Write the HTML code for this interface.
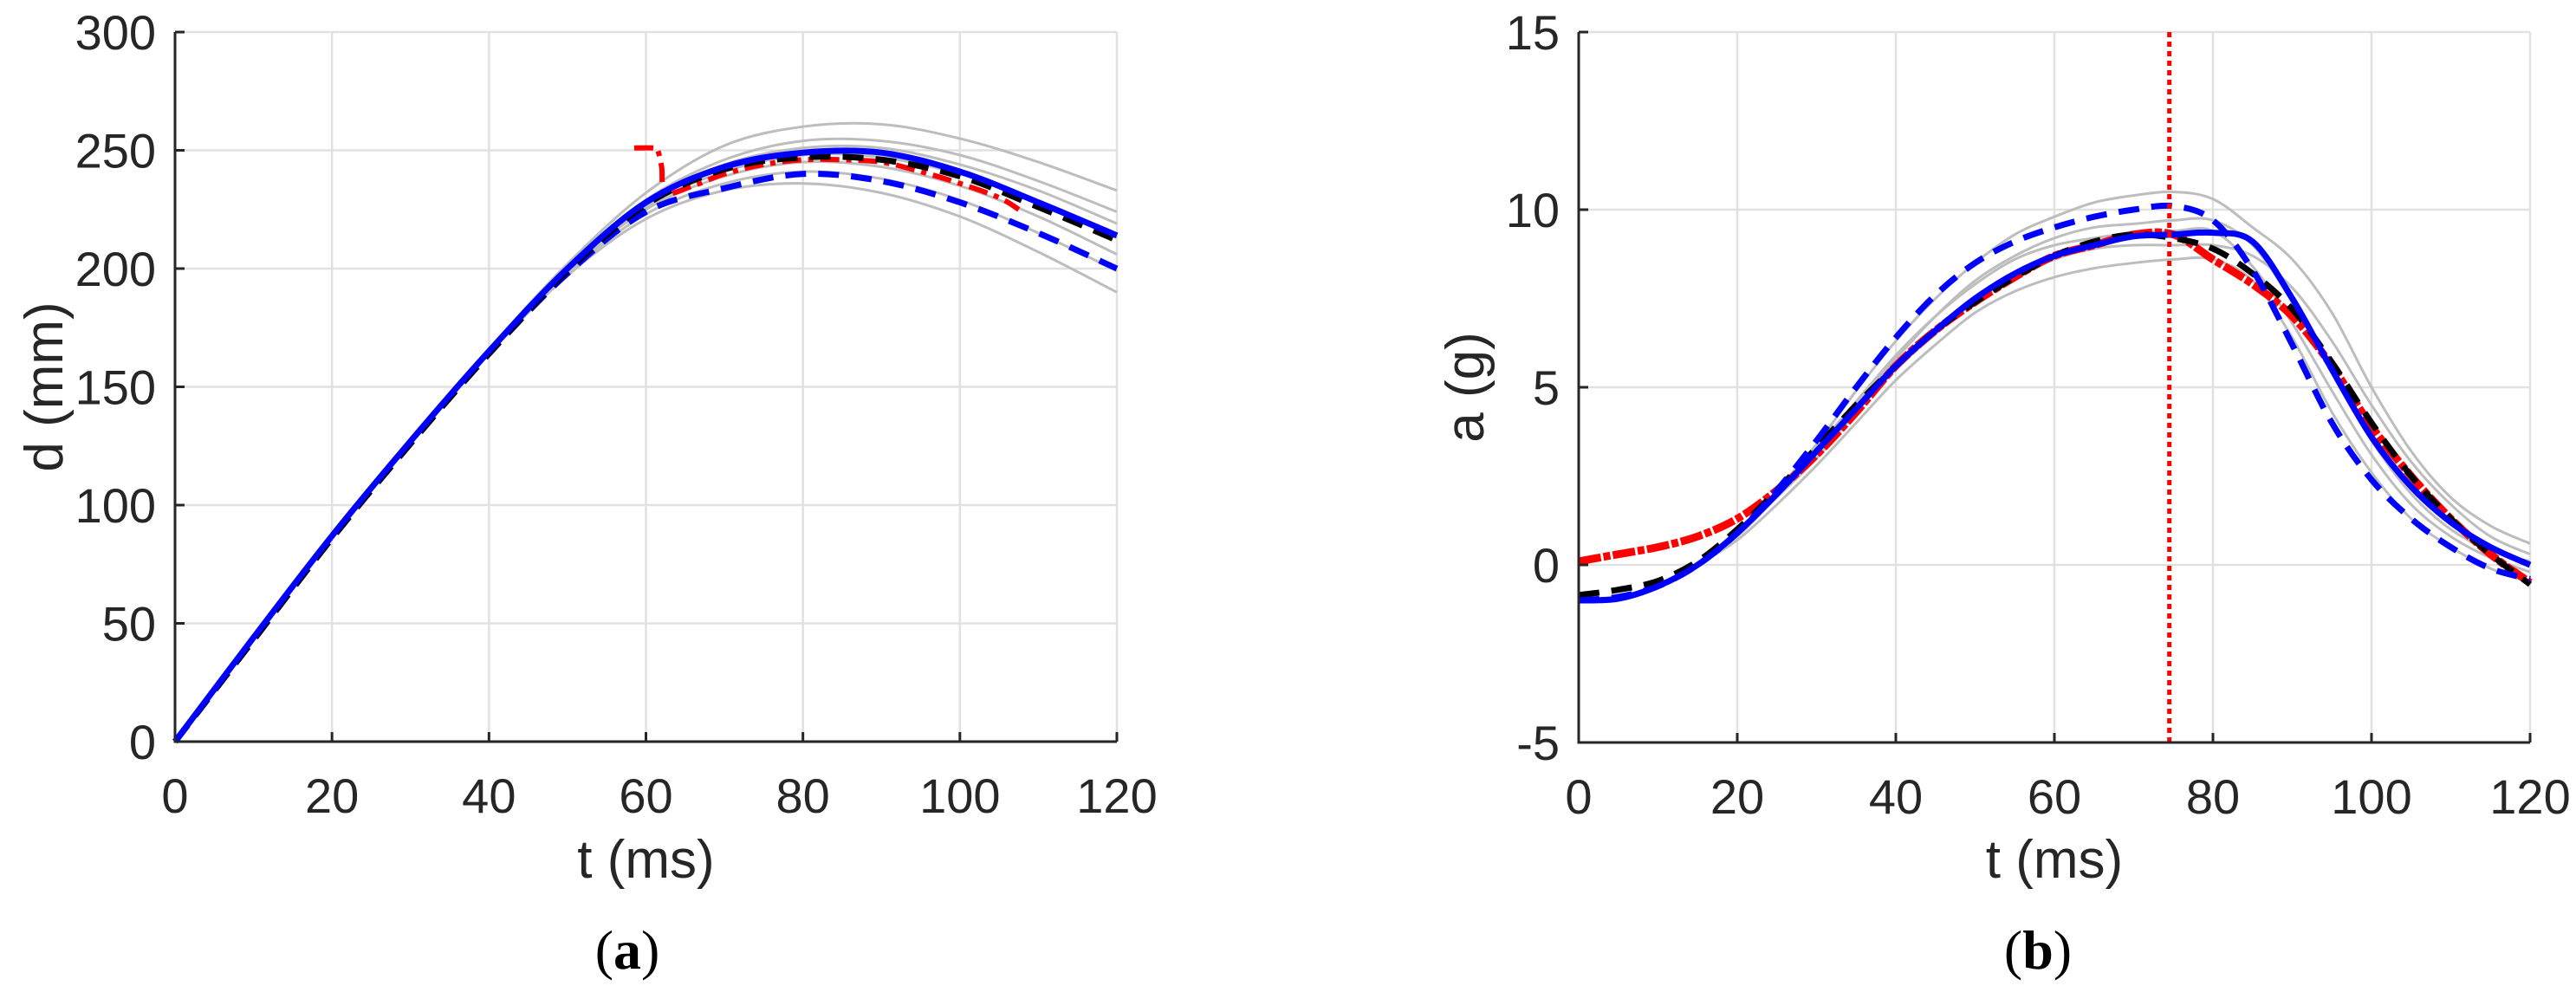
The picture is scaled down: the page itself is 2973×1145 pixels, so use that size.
<!DOCTYPE html>
<html><head><meta charset="utf-8"><style>
html,body{margin:0;padding:0;background:#fff;}
svg{display:block;font-family:"Liberation Sans",sans-serif;}
</style></head><body>
<svg id="fig" width="2973" height="1145" viewBox="0 0 2973 1145" xmlns="http://www.w3.org/2000/svg">
<g id="pa"></g>
<g id="pb"></g>
<text x="724" y="1118" text-anchor="middle" font-family="Liberation Serif, serif" font-size="64" fill="#000">(<tspan font-weight="bold">a</tspan>)</text>
<text x="2352" y="1118" text-anchor="middle" font-family="Liberation Serif, serif" font-size="64" fill="#000">(<tspan font-weight="bold">b</tspan>)</text>
</svg>
<script>
// ---------- Panel (a) data ----------
const tD = [0,10,20,30,40,50,60,70,80,90,100,110,120];
const dGray1 = [0,44,87,127,166,202,232,252,260,261,255,245,233];
const dGray2 = [0,44,87,127,165,200,229,246,254,254,248,237,224];
const dGray3 = [0,44,87,127,165,200,228,244,251,251,244,233,219];
const dGray4 = [0,44,87,127,165,199,226,241,248,247,240,228,213];
const dGray5 = [0,44,87,127,165,199,225,239,245,243,235,222,206];
const dGray6 = [0,44,87,127,164,198,223,236,241,238,229,215,199];
const dGray7 = [0,44,87,127,164,197,221,233,236,232,222,207,190];
const dBlueSolid = [0,44,87,127,165,200,228,243,249,249,241,228,214];
const dBlack = [0,43,86,126,164,199,227,242,247,246,239,226,212];
const dBlueDash = [0,43,86,126,164,198,224,234,240,237,228,215,200];
const tRed = [58.5,61,61.5,62,62.5,66,70,75,80,85,90,95,100,105,107.5];
const dRed = [251,251,250,243,232,235,240,244,246,246,245,241,236,230,225];
const xTicksA = [0,20,40,60,80,100,120];
const yTicksA = [0,50,100,150,200,250,300];

// ---------- Panel (b) data ----------
const tA = [0,5,10,15,20,25,30,35,40,45,50,55,60,65,70,75,80,85,90,95,100,105,110,115,120];
const aGray1 = [-1,-0.95,-0.6,0,0.9,2.1,3.4,4.9,6.3,7.5,8.5,9.3,9.8,10.2,10.4,10.5,10.3,9.5,8.6,7.1,5.0,3.2,1.9,1.1,0.6];
const aGray2 = [-1,-0.95,-0.6,0,0.7,1.7,2.8,4.0,5.2,6.2,7.1,7.7,8.1,8.35,8.5,8.6,8.6,8.0,6.4,4.3,2.6,1.3,0.5,-0.1,-0.5];
const aGray3 = [-1,-0.95,-0.6,0,0.85,2.0,3.2,4.5,5.8,7.0,8.0,8.7,9.2,9.5,9.6,9.7,9.7,9.0,7.4,5.4,3.5,2.0,1.0,0.4,0.1];
const aGray4 = [-1,-0.95,-0.6,0,0.8,1.9,3.0,4.3,5.5,6.5,7.4,8.1,8.6,8.9,9.0,9.0,9.0,8.7,7.8,6.3,4.5,2.9,1.7,0.8,0.3];
const aGray5 = [-1,-0.95,-0.6,0,0.9,2.1,3.3,4.6,5.9,7.0,7.9,8.6,9.0,9.2,9.35,9.4,9.4,8.4,6.8,4.9,3.1,1.7,0.8,0.2,-0.2];
const aBlueSolid = [-1.0,-0.95,-0.6,0,0.9,2.0,3.2,4.4,5.6,6.6,7.5,8.2,8.7,9.0,9.25,9.3,9.35,9.1,7.5,5.5,3.6,2.2,1.2,0.5,0.0];
const aBlack = [-0.85,-0.7,-0.45,0.1,1.0,2.1,3.3,4.5,5.6,6.6,7.4,8.1,8.7,9.1,9.3,9.2,8.9,8.2,7.2,5.7,4.0,2.5,1.3,0.3,-0.55];
const aRed = [0.1,0.3,0.5,0.8,1.3,2.1,3.1,4.3,5.6,6.6,7.4,8.1,8.7,9.0,9.3,9.3,8.6,7.9,7.0,5.6,3.9,2.5,1.3,0.3,-0.5];
const aBlueDash = [-1.0,-0.9,-0.6,0,0.9,2.1,3.5,5.0,6.4,7.6,8.5,9.1,9.5,9.8,10.0,10.1,9.7,8.3,6.2,4.0,2.4,1.3,0.5,-0.1,-0.4];
const tMarker = [74.5];
const xTicksB = [0,20,40,60,80,100,120];
const yTicksB = [-5,0,5,10,15];

const NS = "http://www.w3.org/2000/svg";
function mk(parent, tag, attrs){
  const e = document.createElementNS(NS, tag);
  for (const k in attrs) e.setAttribute(k, attrs[k]);
  parent.appendChild(e);
  return e;
}
function smoothPath(pts){
  let d = "M" + pts[0][0].toFixed(1) + "," + pts[0][1].toFixed(1);
  for (let i=0;i<pts.length-1;i++){
    const p0 = pts[Math.max(0,i-1)], p1 = pts[i], p2 = pts[i+1], p3 = pts[Math.min(pts.length-1,i+2)];
    const c1x = p1[0]+(p2[0]-p0[0])/6, c1y = p1[1]+(p2[1]-p0[1])/6;
    const c2x = p2[0]-(p3[0]-p1[0])/6, c2y = p2[1]-(p3[1]-p1[1])/6;
    d += " C"+c1x.toFixed(1)+","+c1y.toFixed(1)+" "+c2x.toFixed(1)+","+c2y.toFixed(1)+" "+p2[0].toFixed(1)+","+p2[1].toFixed(1);
  }
  return d;
}

function buildAxes(g, cfg){
  const sx = v => cfg.x0 + (v-cfg.xmin)/(cfg.xmax-cfg.xmin)*(cfg.x1-cfg.x0);
  const sy = v => cfg.y0 - (v-cfg.ymin)/(cfg.ymax-cfg.ymin)*(cfg.y0-cfg.y1);
  cfg.xt.forEach(v=>{
    const l = mk(g,"line",{x1:sx(v),x2:sx(v),y1:cfg.y1,y2:cfg.y0,stroke:"#e1e1e1","stroke-width":2.5});
    
    
  });
  cfg.yt.forEach(v=>{
    const l = mk(g,"line",{x1:cfg.x0,x2:cfg.x1,y1:sy(v),y2:sy(v),stroke:"#e1e1e1","stroke-width":2.5});
    
    
  });
  return {sx, sy};
}
function finishAxes(g, cfg, s){
  const ax = mk(g,"path",{d:`M${cfg.x0},${cfg.y1} V${cfg.y0} H${cfg.x1}`,fill:"none",stroke:"#262626","stroke-width":3});
  
  
  cfg.xt.forEach(v=>{
    const t = mk(g,"line",{x1:s.sx(v),x2:s.sx(v),y1:cfg.y0,y2:cfg.y0-11,stroke:"#262626","stroke-width":3});
    
    
    const tx = mk(g,"text",{x:s.sx(v),y:cfg.y0+82,"text-anchor":"middle","font-size":56,fill:"#262626"});
    tx.textContent = v;
    
    
  });
  cfg.yt.forEach(v=>{
    const t = mk(g,"line",{x1:cfg.x0,x2:cfg.x0+11,y1:s.sy(v),y2:s.sy(v),stroke:"#262626","stroke-width":3});
    
    
    const tx = mk(g,"text",{x:cfg.x0-22,y:s.sy(v)+20,"text-anchor":"end","font-size":56,fill:"#262626"});
    tx.textContent = v;
    
    
  });
  const xl = mk(g,"text",{x:(cfg.x0+cfg.x1)/2,y:1013,"text-anchor":"middle","font-size":62,fill:"#262626"});
  xl.textContent = "t (ms)";
  
  
  const yl = mk(g,"text",{x:0,y:0,"text-anchor":"middle","font-size":62,fill:"#262626",transform:`translate(${cfg.ylx},${(cfg.y0+cfg.y1)/2}) rotate(-90)`});
  yl.textContent = cfg.ylabel;
  
  
}
function series(g, s, ts, vs, style, name){
  const pts = ts.map((t,i)=>[s.sx(t), s.sy(vs[i])]);
  const p = mk(g,"path",Object.assign({d:smoothPath(pts),fill:"none","stroke-linecap":"butt","stroke-linejoin":"round"},style));
  
  
  return p;
}

// Panel a
const ga = document.getElementById("pa");
const cfgA = {x0:202,x1:1289,y0:856,y1:37,xmin:0,xmax:120,ymin:0,ymax:300,xt:xTicksA,yt:yTicksA,ylabel:"d (mm)",ylx:72};
const sA = buildAxes(ga, cfgA);
[dGray1,dGray2,dGray3,dGray4,dGray5,dGray6,dGray7].forEach(v=>series(ga,sA,tD,v,{stroke:"#bdbdbd","stroke-width":3},"gray-simulation-curve"));
series(ga,sA,tD,dBlueDash,{stroke:"#0000ff","stroke-width":7,"stroke-dasharray":"24 14"},"blue-dashed-curve");
series(ga,sA,tRed,dRed,{stroke:"#ff0000","stroke-width":6,"stroke-dasharray":"22 8 6 8"},"red-dashdot-curve");
series(ga,sA,tD,dBlack,{stroke:"#000","stroke-width":7,"stroke-dasharray":"24 14"},"black-dashed-curve");
series(ga,sA,tD,dBlueSolid,{stroke:"#0000ff","stroke-width":7},"blue-solid-curve");
finishAxes(ga, cfgA, sA);

// Panel b
const gb = document.getElementById("pb");
const cfgB = {x0:1822,x1:2920,y0:857,y1:37,xmin:0,xmax:120,ymin:-5,ymax:15,xt:xTicksB,yt:yTicksB,ylabel:"a (g)",ylx:1712};
const sB = buildAxes(gb, cfgB);
[aGray1,aGray2,aGray3,aGray4,aGray5].forEach(v=>series(gb,sB,tA,v,{stroke:"#bdbdbd","stroke-width":3},"gray-simulation-curve"));
series(gb,sB,tA,aRed,{stroke:"#ff0000","stroke-width":9,"stroke-dasharray":"26 3 8 3"},"red-measured-curve");
series(gb,sB,tA,aBlack,{stroke:"#000","stroke-width":7,"stroke-dasharray":"24 14"},"black-dashed-curve");
series(gb,sB,tA,aBlueDash,{stroke:"#0000ff","stroke-width":7,"stroke-dasharray":"24 14"},"blue-dashed-curve");
series(gb,sB,tA,aBlueSolid,{stroke:"#0000ff","stroke-width":7},"blue-solid-curve");
tMarker.forEach(t=>{
  const l = mk(gb,"line",{x1:sB.sx(t),x2:sB.sx(t),y1:cfgB.y1,y2:cfgB.y0,stroke:"#ff0000","stroke-width":5,"stroke-dasharray":"6 5"});
  
  
});
finishAxes(gb, cfgB, sB);
</script>
</body></html>
